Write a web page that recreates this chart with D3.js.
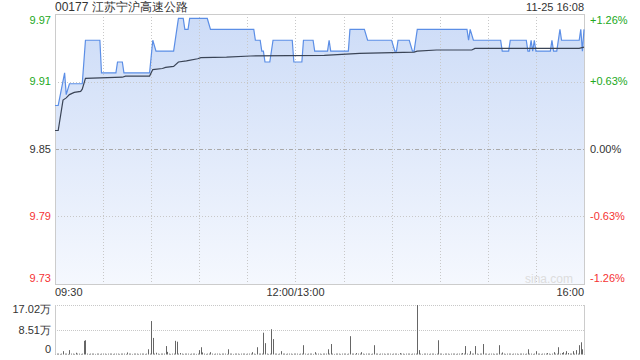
<!DOCTYPE html>
<html>
<head>
<meta charset="utf-8">
<script src="https://cdn.jsdelivr.net/npm/d3@7"></script>
<style>
  body { margin: 0; background: #fff; }
  svg { display: block; font-family: "Liberation Sans", Arial, sans-serif; }
</style>
</head>
<body>
<div id="chart"></div>
<script>
// stock info
var title = "00177 江苏宁沪高速公路";
var stamp = "11-25 16:08";
var prevClose = 9.85;

// price line, only the minutes where it turns (HH:MM -> price)
var priceTimes = ["09:30","09:32","09:36","09:37","09:39","09:47","09:49","09:58","09:59","10:08",
  "10:09","10:12","10:13","10:29","10:31","10:33","10:44","10:47","10:50","10:51",
  "10:53","10:54","11:05","11:07","11:34","11:35","11:38","11:39","11:40","11:41",
  "11:44","11:46","11:58","11:59","13:04","13:05","13:11","13:12","13:20","13:21",
  "13:22","13:33","13:34","13:43","13:45","14:00","14:02","14:03","14:04","14:11",
  "14:13","14:14","14:16","14:47","14:48","14:49","14:51","15:08","15:09","15:13",
  "15:14","15:24","15:25","15:26","15:27","15:28","15:29","15:30","15:39","15:40",
  "15:41","15:43","15:45","15:46","15:57","15:58","15:59","16:00"];
var prices = [9.89,9.89,9.92,9.90,9.91,9.91,9.95,9.95,9.92,9.92,
  9.93,9.93,9.92,9.92,9.95,9.94,9.94,9.97,9.97,9.96,
  9.96,9.97,9.97,9.96,9.96,9.95,9.95,9.94,9.94,9.93,
  9.93,9.95,9.95,9.93,9.93,9.95,9.95,9.94,9.94,9.95,
  9.94,9.94,9.96,9.96,9.95,9.95,9.94,9.94,9.95,9.95,
  9.94,9.94,9.96,9.96,9.95,9.96,9.95,9.95,9.94,9.94,
  9.95,9.95,9.94,9.94,9.95,9.94,9.95,9.94,9.94,9.95,
  9.94,9.94,9.96,9.95,9.95,9.96,9.94,9.96];

// average price line
var avgTimes = ["09:30","09:32","09:35","09:37","09:39","09:42","09:46","09:47","09:49","10:12",
  "10:14","10:29","10:31","10:37","10:39","10:44","10:47","10:52","10:59","11:01",
  "11:17","11:32","13:18","13:40","14:14","14:16","14:28","14:50","14:52","15:57","16:00"];
var avgPrices = [9.867,9.867,9.895,9.897,9.900,9.902,9.903,9.905,9.915,9.916,
  9.917,9.917,9.923,9.924,9.925,9.926,9.930,9.931,9.933,9.934,
  9.9345,9.9355,9.936,9.938,9.939,9.940,9.941,9.941,9.9425,9.9425,9.9437];

// volume per minute in 万 shares, 09:30 .. 16:00 (331 minutes)
var volumes = [
  0.7,0.3,0.3,0.2,0.3,1.15,0.3,0.3,0.2,1.5,
  0.3,0.3,0.2,0.6,0.3,0.3,0.2,0.3,4.7,4.9,
  0.3,0.2,0.3,0.3,0.3,0.2,0.3,0.3,0.2,0.3,
  0.3,0.3,0.2,0.3,0.3,0.3,0.2,0.3,0.3,0.3,
  0.2,0.3,0.3,0.3,0.2,0.7,0.3,0.3,0.2,0.3,
  0.3,0.3,0.2,0.3,0.3,0.3,0.2,0.3,1.8,0.3,
  11.5,5.7,0.3,0.6,0.3,0.2,0.3,0.3,0.3,2.9,
  0.9,0.3,0.2,0.3,0.3,4.7,4.4,0.3,0.5,0.3,
  0.2,0.3,0.3,0.3,0.2,0.3,0.3,0.3,0.2,0.3,
  1.5,2.5,0.7,0.3,0.2,0.3,0.3,0.8,0.3,0.2,
  0.3,0.3,0.3,0.2,0.3,0.3,0.3,0.2,1.8,0.3,
  0.3,0.2,0.3,0.3,0.3,0.2,0.3,0.3,0.3,0.2,
  0.3,0.3,0.3,0.8,0.3,0.2,2.5,0.3,0.3,0.3,
  7.5,3.9,0.3,0.2,0.3,8.7,5.3,0.3,0.3,0.2,
  0.3,1.15,0.3,0.3,0.2,0.3,0.3,0.3,0.2,0.3,
  0.3,0.3,0.2,0.3,0.3,3.2,0.3,0.2,0.3,0.3,
  0.3,0.2,0.8,0.3,0.3,0.3,0.2,0.3,0.3,0.3,
  1.8,0.3,3.6,0.3,0.2,0.3,0.3,0.3,0.2,0.3,
  0.3,0.3,0.2,0.3,6.3,0.3,0.3,0.2,0.5,0.3,
  0.3,0.8,0.3,0.2,0.3,0.3,0.3,0.2,0.3,3.2,
  0.3,0.3,0.2,0.3,0.3,0.3,0.2,0.3,0.3,0.3,
  0.2,0.3,0.3,0.3,0.2,0.5,0.3,0.3,0.2,0.3,
  0.3,0.3,0.2,0.3,0.3,0.3,17.02,1.5,0.3,0.2,
  0.3,0.3,0.3,0.2,0.3,0.3,0.3,0.2,0.3,4.9,
  0.3,0.3,0.2,0.3,0.3,0.3,0.2,0.3,0.3,0.3,
  0.2,0.3,0.3,0.3,0.5,0.3,2.9,0.3,0.2,1.15,
  0.3,0.3,2.9,0.3,0.2,0.3,0.3,3.6,0.3,0.3,
  0.2,0.3,0.3,0.3,0.2,0.3,0.3,3.2,0.3,0.7,
  0.3,0.2,0.3,0.3,0.3,0.2,0.3,0.3,0.3,0.2,
  0.3,0.3,0.3,0.2,0.3,1.8,0.3,0.3,0.2,0.3,
  1.15,0.3,0.3,0.2,0.3,0.3,0.3,0.5,0.3,0.2,
  0.3,0.8,0.3,0.3,2.5,0.3,0.5,0.8,0.3,1.15,
  0.5,0.3,0.3,1.15,0.3,1.5,0.3,3.2,4.2,1.8,
  13.1];

// ticks
var gridTimes = ["10:00","10:30","11:00","11:30","12:00","13:30","14:00","14:30","15:00","15:30"];
var timeLabels = ["09:30", "12:00/13:00", "16:00"];
var pctLevels = [0.0126, 0.0063, 0, -0.0063, -0.0126];

// HK session: 09:30-12:00 then 13:01-16:00, as one minute index
function minuteIndex(t) {
    var p = t.split(":");
    var mins = +p[0] * 60 + +p[1];
    return mins <= 720 ? mins - 570 : mins - 780 + 150;
}

function drawChart() {
    var width = 640, height = 360;
    var left = 55, right = 584, plotTop = 14, plotBottom = 284;
    var vTop = 305, vBottom = 354.5;

    var svg = d3.select("#chart").append("svg")
        .attr("width", width)
        .attr("height", height);

    var x = d3.scaleLinear().domain([0, 330]).range([left, right]);
    var y = d3.scaleLinear()
        .domain([prevClose * (1 - 0.0126), prevClose * (1 + 0.0126)])
        .range([plotBottom, plotTop]);
    var vMax = d3.max(volumes);
    var vy = d3.scaleLinear().domain([0, vMax]).range([vBottom, vTop]);

    var pricePts = priceTimes.map(function(t, i) { return [minuteIndex(t), prices[i]]; });
    var avgPts = avgTimes.map(function(t, i) { return [minuteIndex(t), avgPrices[i]]; });

    // gradient fill
    var grad = svg.append("defs").append("linearGradient")
        .attr("id", "fill").attr("x1", 0).attr("y1", 0).attr("x2", 0).attr("y2", 1);
    grad.append("stop").attr("offset", "0%").attr("stop-color", "#cddcf7");
    grad.append("stop").attr("offset", "100%").attr("stop-color", "#f5f8fe");

    svg.append("path")
        .datum(pricePts)
        .attr("fill", "url(#fill)")
        .attr("d", d3.area()
            .x(function(d) { return x(d[0]); })
            .y0(plotBottom)
            .y1(function(d) { return y(d[1]); }));

    // vertical grid
    svg.selectAll(".vgrid")
        .data(gridTimes)
        .enter().append("line")
        .attr("x1", function(d) { return Math.round(x(minuteIndex(d))) + 0.5; })
        .attr("x2", function(d) { return Math.round(x(minuteIndex(d))) + 0.5; })
        .attr("y1", plotTop).attr("y2", plotBottom)
        .style("stroke", "#c8c8c8")
        .style("stroke-dasharray", "1,2");

    // horizontal grid
    svg.selectAll(".hgrid")
        .data(pctLevels.slice(1, 4))
        .enter().append("line")
        .attr("x1", left).attr("x2", right)
        .attr("y1", function(d) { return Math.round(y(prevClose * (1 + d))) + 0.5; })
        .attr("y2", function(d) { return Math.round(y(prevClose * (1 + d))) + 0.5; })
        .style("stroke", function(d) { return d === 0 ? "#aaa" : "#c8c8c8"; })
        .style("stroke-dasharray", function(d) { return d === 0 ? "4,2,1,2" : "1,2"; });

    // frame
    svg.append("rect")
        .attr("x", left + 0.5).attr("y", plotTop + 0.5)
        .attr("width", right - left).attr("height", plotBottom - plotTop)
        .style("fill", "none")
        .style("stroke", "#ccc");

    svg.append("text")
        .attr("x", 573).attr("y", 283)
        .attr("text-anchor", "end")
        .style("font-size", "12px")
        .style("fill", "#ddd")
        .text("sina.com");

    // lines
    svg.append("path")
        .datum(pricePts)
        .attr("fill", "none")
        .attr("stroke", "#5b8ee6")
        .attr("stroke-width", 1.2)
        .attr("d", d3.line().x(function(d) { return x(d[0]); }).y(function(d) { return y(d[1]); }));

    svg.append("path")
        .datum(avgPts)
        .attr("fill", "none")
        .attr("stroke", "#3a4456")
        .attr("stroke-width", 1.2)
        .attr("d", d3.line().x(function(d) { return x(d[0]); }).y(function(d) { return y(d[1]); }));

    // price / pct labels
    function labelColor(d) { return d > 0 ? "#21a821" : (d < 0 ? "#f53333" : "#333"); }
    function labelY(d) { return Math.max(20, Math.min(278, y(prevClose * (1 + d)))); }

    svg.selectAll(".plabel")
        .data(pctLevels)
        .enter().append("text")
        .attr("x", 51)
        .attr("y", labelY)
        .attr("dy", "0.35em")
        .attr("text-anchor", "end")
        .style("font-size", "11px")
        .style("fill", labelColor)
        .text(function(d) { return (prevClose * (1 + d)).toFixed(2); });

    svg.selectAll(".pctlabel")
        .data(pctLevels)
        .enter().append("text")
        .attr("x", 590)
        .attr("y", labelY)
        .attr("dy", "0.35em")
        .style("font-size", "11px")
        .style("fill", labelColor)
        .text(function(d) { return (d > 0 ? "+" : "") + (d * 100).toFixed(2) + "%"; });

    // title and time stamp
    svg.append("text")
        .attr("x", 55).attr("y", 11)
        .style("font-size", "12px")
        .style("fill", "#333")
        .text(title);

    svg.append("text")
        .attr("x", 584).attr("y", 11)
        .attr("text-anchor", "end")
        .style("font-size", "11px")
        .style("fill", "#333")
        .text(stamp);

    // time axis labels
    svg.selectAll(".tlabel")
        .data(timeLabels)
        .enter().append("text")
        .attr("x", function(d, i) { return i === 0 ? left : (i === 1 ? x(150) : right); })
        .attr("y", 296)
        .attr("text-anchor", function(d, i) { return ["start", "middle", "end"][i]; })
        .style("font-size", "11px")
        .style("fill", "#333")
        .text(function(d) { return d; });

    // volume panel
    svg.selectAll(".vgridh")
        .data([vMax, vMax / 2])
        .enter().append("line")
        .attr("x1", left).attr("x2", right)
        .attr("y1", function(d) { return Math.round(vy(d)) + 0.5; })
        .attr("y2", function(d) { return Math.round(vy(d)) + 0.5; })
        .style("stroke", "#c8c8c8")
        .style("stroke-dasharray", "1,1");

    svg.selectAll(".bar")
        .data(volumes)
        .enter().append("rect")
        .attr("x", function(d, i) { return Math.round(x(i)); })
        .attr("width", 1)
        .attr("y", function(d) { return vy(d); })
        .attr("height", function(d) { return vBottom - vy(d); })
        .style("fill", "#666");

    svg.append("line")
        .attr("x1", left + 0.5).attr("x2", left + 0.5)
        .attr("y1", vTop).attr("y2", vBottom)
        .style("stroke", "#ccc");
    svg.append("line")
        .attr("x1", right + 0.5).attr("x2", right + 0.5)
        .attr("y1", vTop).attr("y2", vBottom)
        .style("stroke", "#ccc");

    svg.selectAll(".vlabel")
        .data([vMax, vMax / 2, 0])
        .enter().append("text")
        .attr("x", 51)
        .attr("y", function(d) { return Math.max(vTop + 4, Math.min(vBottom - 5, vy(d))); })
        .attr("dy", "0.35em")
        .attr("text-anchor", "end")
        .style("font-size", "11px")
        .style("fill", "#333")
        .text(function(d) { return d === 0 ? "0" : d.toFixed(2) + "万"; });
}

drawChart();
</script>
</body>
</html>
